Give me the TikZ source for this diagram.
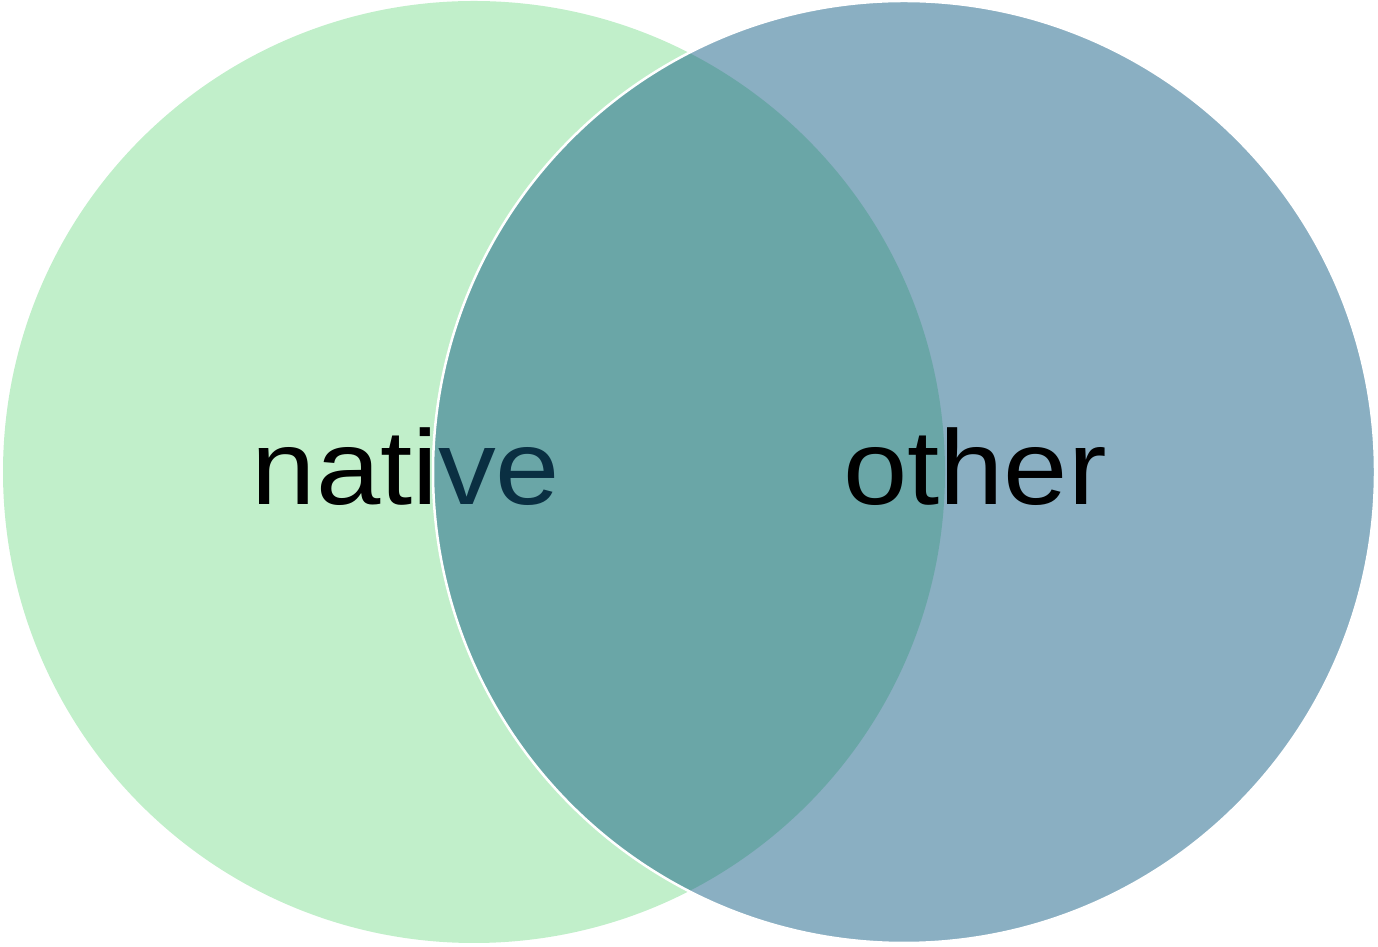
\documentclass[tikz,border=0pt]{standalone}
\usepackage{fontspec}
\setmainfont{Liberation Sans}[FakeStretch=1.09]
\definecolor{setA}{HTML}{C1EFCA}
\definecolor{setB}{HTML}{155F85}
\begin{document}
\begin{tikzpicture}[x=1pt,y=1pt,
  lbl/.style={anchor=base,inner sep=0pt,font=\fontsize{106}{120}\selectfont,text=black}]
\useasboundingbox (0,0) rectangle (1378,947);
\fill[setA] (474,475) circle[radius=471];
\node[lbl] (native) at (406,442) {native};
\filldraw[fill=setB,fill opacity=0.5,draw=white,line width=2.5pt] (904,475) circle[radius=471];
\node[lbl] (other) at (975,442) {other};
\end{tikzpicture}
\end{document}
